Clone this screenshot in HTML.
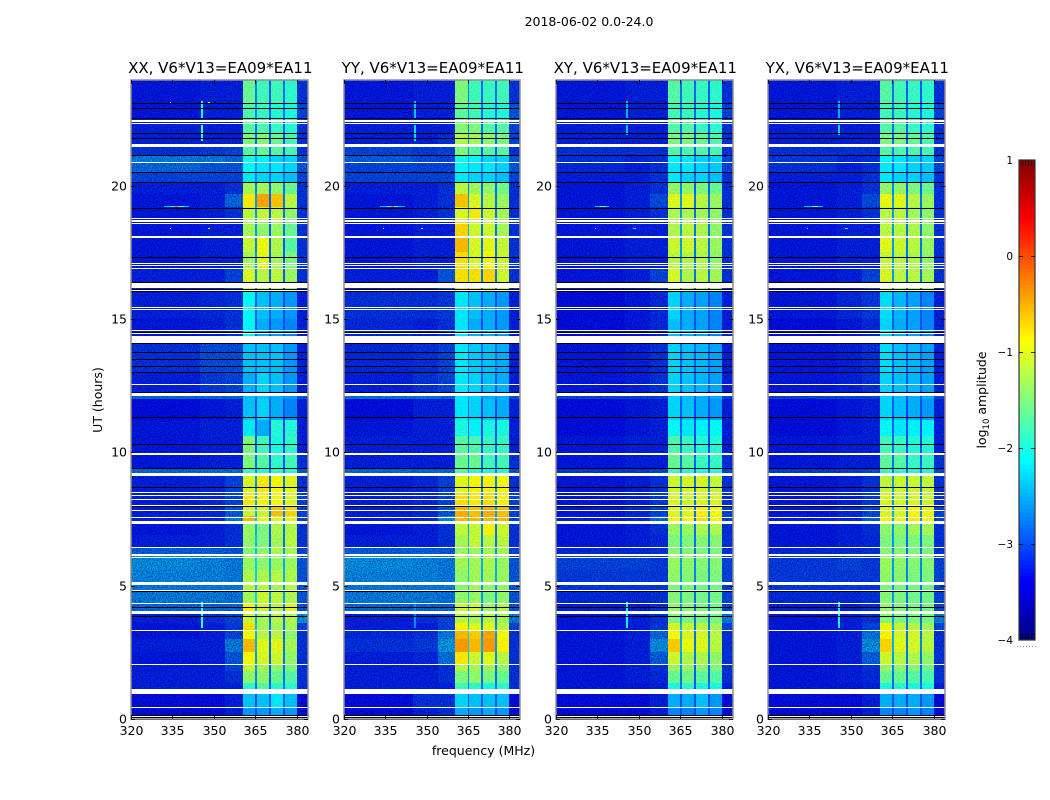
<!DOCTYPE html>
<html lang="en">
<head>
<meta charset="utf-8">
<title>2018-06-02 dynamic spectra</title>
<style>
html,body{margin:0;padding:0;background:#fff;width:1050px;height:800px;overflow:hidden}
svg{display:block}
text{font-family:"DejaVu Sans","Liberation Sans",sans-serif;fill:#000}
</style>
</head>
<body>
<svg id="figure" xmlns="http://www.w3.org/2000/svg" width="1050" height="800" viewBox="0 0 1050 800">
<defs>
<filter id="speckle" x="0" y="0" width="100%" height="100%" color-interpolation-filters="sRGB">
<feTurbulence type="fractalNoise" baseFrequency="0.8" numOctaves="1" seed="3"/>
<feColorMatrix type="matrix" values="0 0 0 0 0  0 0 0 0 0  0 0 0 0 0  2.6 0 0 0 -1"/>
</filter>
</defs>
<rect width="1050" height="800" fill="#fff"/>
<text x="589" y="26" font-size="12.5" text-anchor="middle">2018-06-02 0.0-24.0</text>
<text x="102" y="400" font-size="12.5" text-anchor="middle" transform="rotate(-90 102 400)">UT (hours)</text>
<text x="483.5" y="755" font-size="12.5" text-anchor="middle">frequency (MHz)</text>
<text x="986" y="400" font-size="12.5" text-anchor="middle" transform="rotate(-90 986 400)">log<tspan font-size="8.5" dy="3">10</tspan><tspan dy="-3"> amplitude</tspan></text>
<g id="panels"></g>
<g id="colorbar"></g>
</svg>
<script>
const frequencyEdges = [320,345,354,360.4,365,365.6,369.8,370.6,374.9,375.6,380,384];
const timeEdges = [0,0.45,0.95,1.35,1.8,2.05,2.5,3,3.35,3.6,3.93,4.35,4.85,5.13,5.6,6.18,6.46,6.9,7.41,7.6,8,8.5,9.24,9.4,10,10.6,11.2,12,12.27,13,14.1,15,16.1,16.9,17.5,18.1,18.7,19.2,19.7,20.15,20.5,20.85,21.16,21.5,22,22.4,23.1,23.97];
const xTickLabels = [320,335,350,365,380];
const yTickLabels = [0,5,10,15,20];
const colorbarTickLabels = [1,0,-1,-2,-3,-4];
const panelTitles = ["XX, V6*V13=EA09*EA11","YY, V6*V13=EA09*EA11","XY, V6*V13=EA09*EA11","YX, V6*V13=EA09*EA11"];

const xxValues = [
[-3.3,-3.3,-3.2,-2.6,-3,-2.6,-3,-2.5,-3,-2.6,-3.3],
[-3.3,-3.3,-3.2,-2.4,-3,-2.4,-2.9,-2.2,-2.9,-2.4,-3.3],
[-3.2,-3.2,-3.2,-1.9,-2.8,-1.7,-2.9,-1.9,-2.8,-1.9,-3.1],
[-3.2,-3.2,-3.1,-1.4,-2.7,-1.4,-2.9,-1.6,-2.8,-1.7,-3.1],
[-3.2,-3.2,-3,-1.1,-2.6,-1.3,-2.9,-1.4,-2.8,-1.5,-3.1],
[-3.25,-3.2,-2.9,-0.9,-2.6,-1.05,-2.9,-1.1,-2.8,-1.4,-3.1],
[-3.2,-3.2,-2.7,-0.55,-2.5,-1,-2.9,-1,-2.8,-1.3,-3.1],
[-3.25,-3.2,-3,-0.9,-2.5,-1.2,-2.9,-1.2,-2.9,-1.4,-3.1],
[-3.25,-3.2,-3.05,-0.75,-2.4,-1.3,-2.8,-1.3,-2.8,-1.3,-3],
[-3.2,-3.1,-3,-1.1,-2.5,-1.3,-2.9,-1.2,-2.8,-1.25,-2.6],
[-2.8,-2.8,-2.8,-0.85,-2.5,-1.1,-2.7,-1.2,-2.7,-1,-2.9],
[-2.7,-2.7,-2.75,-1.3,-2.3,-1.1,-2.6,-1.2,-2.6,-1.25,-2.9],
[-2.7,-2.7,-2.7,-1.2,-2.4,-1.2,-2.6,-1.3,-2.6,-1.2,-2.9],
[-2.65,-2.65,-2.7,-1.25,-2.3,-1.25,-2.5,-1.2,-2.5,-1.25,-2.9],
[-2.6,-2.65,-2.7,-1.35,-2.3,-1.4,-2.5,-1.35,-2.5,-1.35,-2.9],
[-2.85,-2.85,-2.9,-1.45,-2.4,-1.4,-2.6,-1.25,-2.6,-1.3,-3],
[-3.2,-3.2,-3.1,-1.4,-2.4,-1.5,-2.9,-1.3,-2.8,-1.2,-3.1],
[-3.25,-3.2,-3.1,-1.35,-2.5,-1.5,-2.9,-1.25,-2.8,-1.25,-3.1],
[-3.2,-3.15,-2.7,-0.55,-2.4,-1,-2.8,-1,-2.7,-1,-3],
[-3.2,-3.15,-2.9,-1.1,-2.5,-1.1,-2.8,-0.6,-2.7,-0.7,-3],
[-3.2,-3.15,-3,-0.8,-2.5,-0.85,-2.8,-0.9,-2.8,-1.05,-3],
[-3.2,-3.15,-3,-1.05,-2.6,-0.8,-2.9,-0.9,-2.8,-1,-3.1],
[-2.8,-2.8,-2.8,-1.8,-2.6,-1.9,-2.7,-1.9,-2.7,-1.9,-2.9],
[-3.25,-3.2,-3.2,-1.5,-2.8,-1.7,-3,-1.9,-3,-1.8,-3.1],
[-3.25,-3.2,-3.2,-1.5,-2.9,-1.8,-3,-2,-3,-1.9,-3.2],
[-3.25,-3.2,-3.2,-2.2,-3,-2.5,-3,-1.95,-3,-1.95,-3.2],
[-3.3,-3.25,-3.2,-2.4,-3,-2.3,-2.9,-2.5,-3,-2.7,-3.2],
[-2.8,-2.8,-2.8,-2.4,-2.7,-2.4,-2.7,-2.5,-2.7,-2.6,-2.9],
[-3.2,-3.05,-3,-2.5,-2.9,-2.3,-2.8,-2.4,-2.9,-2.6,-3.2],
[-3.1,-2.95,-2.95,-2.4,-2.8,-2.4,-2.8,-2.4,-2.8,-2.6,-3.2],
[-3.25,-3.2,-3.1,-2.1,-2.9,-2.5,-3,-2.6,-3,-2.7,-3.2],
[-3.2,-3.15,-3.1,-2.1,-2.9,-2.4,-2.9,-2.5,-3,-2.6,-3.2],
[-3.2,-3.2,-3,-1.05,-2.7,-1.2,-2.9,-1.2,-2.9,-1.35,-3.1],
[-3.25,-3.2,-3.2,-1.3,-2.6,-1,-2.9,-1.3,-2.9,-1.5,-3.1],
[-3.25,-3.2,-3.2,-1.15,-2.7,-0.95,-2.9,-1.25,-2.9,-1.7,-3.1],
[-3.25,-3.2,-3.2,-1.3,-2.6,-1.4,-2.9,-1.35,-2.8,-1.6,-3.1],
[-3.25,-3.2,-3.1,-1.2,-2.6,-1.15,-2.9,-1.2,-2.8,-1.4,-3.1],
[-3.25,-3.2,-2.8,-0.8,-2.6,-0.45,-2.9,-0.6,-2.8,-1.2,-3.1],
[-3.2,-3.2,-3.1,-1.3,-2.7,-1.3,-2.9,-1.4,-2.8,-1.6,-3.1],
[-3,-3,-3,-2.2,-2.7,-2.3,-2.8,-2.3,-2.8,-2.4,-3],
[-2.8,-2.9,-2.9,-2.1,-2.6,-2.2,-2.7,-2.2,-2.7,-2.3,-2.9],
[-2.7,-2.7,-2.8,-2,-2.6,-2.1,-2.7,-2.3,-2.7,-2.3,-2.9],
[-3.1,-3.05,-3,-1.7,-2.7,-1.6,-2.9,-1.7,-2.9,-1.8,-3.1],
[-3.2,-3.2,-3.2,-1.5,-2.8,-1.45,-2.9,-1.6,-2.9,-1.8,-3.1],
[-3.2,-3.2,-3.2,-1.7,-2.8,-1.75,-2.9,-1.85,-2.9,-1.95,-3.1],
[-3.25,-3.2,-3.2,-1.75,-2.7,-1.85,-2.9,-1.95,-2.8,-2,-3],
[-3.25,-3.2,-3.2,-1.6,-2.7,-1.8,-2.9,-1.8,-2.8,-1.9,-3.1]
];
const yyValues = [
[-3.3,-3.2,-3.1,-2.5,-3,-2.6,-3,-2.5,-3,-2.6,-3.3],
[-3.3,-3.1,-3.1,-2.3,-3,-2.4,-2.9,-2.4,-2.9,-2.4,-3.3],
[-3.2,-3.2,-3.2,-1.8,-2.8,-1.9,-2.8,-2,-2.8,-1.9,-3.1],
[-3.2,-3.2,-3.1,-1.5,-2.7,-1.4,-2.8,-1.5,-2.8,-1.6,-3.1],
[-3.2,-3.2,-3.1,-1.2,-2.7,-1.3,-2.8,-1.3,-2.8,-1.4,-3.1],
[-3.2,-3.15,-2.75,-0.8,-2.4,-1.1,-2.7,-1,-2.7,-1.2,-3.1],
[-3.1,-3.05,-2.55,-0.4,-2.3,-0.55,-2.5,-0.4,-2.6,-0.85,-3.1],
[-3.15,-3.1,-2.7,-0.55,-2.3,-0.65,-2.6,-0.45,-2.6,-0.9,-3.1],
[-3.2,-3.2,-3,-0.85,-2.4,-1,-2.7,-1,-2.7,-1.2,-3],
[-3.2,-3.1,-3,-1.2,-2.5,-1.3,-2.8,-1.2,-2.8,-1.3,-2.7],
[-2.8,-2.8,-2.8,-1.1,-2.5,-1.1,-2.7,-1.3,-2.7,-1.2,-2.9],
[-2.7,-2.7,-2.75,-1.4,-2.4,-1.35,-2.6,-1.5,-2.6,-1.4,-2.9],
[-2.7,-2.7,-2.7,-1.45,-2.4,-1.3,-2.6,-1.4,-2.6,-1.4,-2.9],
[-2.65,-2.65,-2.7,-1.4,-2.4,-1.3,-2.5,-1.3,-2.5,-1.35,-2.9],
[-2.6,-2.65,-2.7,-1.3,-2.4,-1.3,-2.5,-1.25,-2.5,-1.35,-2.9],
[-2.85,-2.85,-2.9,-1.35,-2.5,-1.35,-2.6,-1.3,-2.6,-1.3,-3],
[-3.2,-3.2,-3.1,-1.3,-2.5,-1.15,-2.7,-1.2,-2.8,-1.2,-3.1],
[-3.25,-3.2,-3.1,-1.15,-2.6,-1.15,-2.7,-0.85,-2.8,-1.1,-3.1],
[-3.2,-3.15,-2.6,-0.55,-2.4,-0.55,-2.7,-0.55,-2.6,-0.55,-3],
[-3.2,-3.15,-2.9,-0.5,-2.4,-0.6,-2.7,-0.5,-2.6,-0.6,-3],
[-3.2,-3.15,-3,-0.75,-2.5,-0.8,-2.7,-0.75,-2.6,-0.85,-3],
[-3.2,-3.15,-3,-1,-2.5,-0.85,-2.8,-0.85,-2.7,-0.9,-3.1],
[-2.8,-2.8,-2.8,-1.7,-2.6,-1.9,-2.6,-1.9,-2.7,-1.9,-2.9],
[-3.2,-3.2,-3.2,-1.6,-2.8,-1.6,-2.9,-1.8,-2.9,-1.8,-3.1],
[-3.2,-3.2,-3.2,-1.7,-2.8,-1.75,-2.9,-1.85,-2.9,-1.85,-3.2],
[-3.25,-3.2,-3.2,-2,-2.9,-2.15,-3,-2,-3,-2,-3.2],
[-3.3,-3.2,-3.2,-2.2,-2.9,-2.3,-3,-2.4,-3,-2.5,-3.2],
[-2.75,-2.75,-2.8,-2.2,-2.6,-2.3,-2.7,-2.5,-2.7,-2.5,-2.9],
[-3.2,-3.1,-3,-2.2,-2.9,-2.3,-2.9,-2.4,-2.9,-2.5,-3.2],
[-3.15,-3.1,-3,-2.2,-2.8,-2.35,-2.8,-2.4,-2.8,-2.5,-3.2],
[-3.15,-3.2,-3.1,-2.2,-2.9,-2.5,-3,-2.5,-3,-2.6,-3.2],
[-3.1,-3.1,-3.05,-2.2,-2.9,-2.4,-2.9,-2.5,-3,-2.6,-3.2],
[-3.2,-3.2,-2.9,-0.75,-2.5,-0.75,-2.8,-0.7,-2.8,-1.1,-3.1],
[-3.25,-3.2,-3.2,-0.75,-2.5,-1.05,-2.8,-0.9,-2.8,-1.1,-3.1],
[-3.25,-3.2,-3.2,-0.55,-2.5,-1.05,-2.8,-1,-2.8,-1.15,-3.1],
[-3.25,-3.2,-3.2,-0.7,-2.5,-1.1,-2.8,-1.1,-2.8,-1.3,-3.1],
[-3.25,-3.2,-3.1,-1.05,-2.5,-0.8,-2.8,-1.1,-2.8,-1.3,-3.1],
[-3.25,-3.2,-3.1,-0.6,-2.6,-1.05,-2.8,-1.2,-2.8,-1.35,-3.1],
[-3.2,-3.2,-3.1,-1.2,-2.7,-1.35,-2.8,-1.4,-2.8,-1.55,-3.1],
[-3,-3,-3,-2.2,-2.7,-2.3,-2.8,-2.3,-2.8,-2.4,-3],
[-3,-3,-3,-2.1,-2.6,-2.2,-2.7,-2.2,-2.7,-2.3,-2.9],
[-2.85,-2.95,-3,-2,-2.6,-2.1,-2.7,-2.3,-2.7,-2.3,-2.9],
[-3,-3.05,-3,-1.5,-2.7,-1.7,-2.9,-1.7,-2.9,-1.7,-3.1],
[-3.2,-3.2,-3.1,-1.25,-2.7,-1.3,-2.8,-1.4,-2.8,-1.5,-3],
[-3.2,-3.2,-3.2,-1.45,-2.7,-1.5,-2.8,-1.7,-2.8,-1.7,-3],
[-3.25,-3.2,-3.2,-1.65,-2.7,-1.8,-2.8,-1.95,-2.8,-1.95,-2.9],
[-3.25,-3.2,-3.2,-1.5,-2.7,-1.8,-2.8,-1.85,-2.8,-1.8,-3.1]
];
const xyValues = [
[-3.3,-3.3,-3.2,-2.7,-3,-2.7,-3,-2.6,-3,-2.7,-3.3],
[-3.3,-3.3,-3.2,-2.5,-3,-2.5,-3,-2.4,-3,-2.6,-3.3],
[-3.25,-3.25,-3.2,-2,-2.9,-1.9,-3,-2,-2.9,-2,-3.2],
[-3.25,-3.2,-3.15,-1.6,-2.8,-1.55,-2.9,-1.65,-2.9,-1.7,-3.1],
[-3.25,-3.2,-3.1,-1.35,-2.7,-1.35,-2.9,-1.45,-2.9,-1.5,-3.1],
[-3.25,-3.2,-2.85,-1.1,-2.6,-1.25,-2.8,-1.25,-2.8,-1.4,-3.1],
[-3.25,-3.2,-2.6,-0.65,-2.5,-0.95,-2.8,-1,-2.7,-1.2,-3.1],
[-3.25,-3.2,-2.8,-0.9,-2.5,-1.05,-2.8,-1.05,-2.8,-1.2,-3.1],
[-3.25,-3.2,-3.05,-1.05,-2.5,-1.15,-2.8,-1.2,-2.8,-1.3,-3],
[-3.25,-3.2,-3.1,-1.5,-2.6,-1.5,-2.8,-1.5,-2.8,-1.55,-2.7],
[-3.2,-3.2,-3.1,-1.4,-2.6,-1.45,-2.8,-1.5,-2.8,-1.55,-3],
[-3.15,-3.15,-3.1,-1.45,-2.6,-1.5,-2.8,-1.55,-2.8,-1.55,-3],
[-3.05,-3.05,-3.05,-1.5,-2.6,-1.5,-2.8,-1.55,-2.8,-1.55,-3],
[-3.05,-3.05,-3.05,-1.4,-2.6,-1.45,-2.7,-1.5,-2.7,-1.5,-3],
[-3,-3,-3.05,-1.35,-2.6,-1.4,-2.7,-1.45,-2.7,-1.45,-3],
[-3.15,-3.15,-3.1,-1.45,-2.6,-1.45,-2.8,-1.5,-2.8,-1.5,-3.1],
[-3.25,-3.2,-3.15,-1.5,-2.6,-1.5,-2.8,-1.45,-2.8,-1.45,-3.1],
[-3.25,-3.2,-3.1,-1.35,-2.6,-1.35,-2.8,-1.25,-2.8,-1.25,-3.1],
[-3.2,-3.15,-2.8,-0.85,-2.5,-0.9,-2.8,-0.75,-2.7,-0.85,-3],
[-3.25,-3.15,-3,-1,-2.5,-1,-2.8,-0.85,-2.7,-0.9,-3],
[-3.25,-3.2,-3.05,-1.05,-2.6,-1.1,-2.8,-1.05,-2.8,-1.05,-3.1],
[-3.25,-3.2,-3.1,-1.1,-2.6,-1.05,-2.8,-1.05,-2.8,-1.15,-3.1],
[-3.05,-3.05,-3,-1.8,-2.7,-1.9,-2.8,-1.95,-2.8,-1.95,-3],
[-3.25,-3.2,-3.2,-1.6,-2.8,-1.7,-2.9,-1.85,-2.9,-1.85,-3.1],
[-3.25,-3.2,-3.2,-1.75,-2.8,-1.85,-3,-1.95,-3,-1.95,-3.2],
[-3.3,-3.25,-3.2,-2.1,-2.9,-2.2,-3,-2.15,-3,-2.1,-3.2],
[-3.3,-3.25,-3.2,-2.3,-2.9,-2.4,-3,-2.5,-3,-2.6,-3.2],
[-3,-3,-3,-2.3,-2.8,-2.4,-2.9,-2.5,-2.9,-2.5,-3],
[-3.25,-3.2,-3.1,-2.3,-2.9,-2.4,-2.9,-2.45,-2.9,-2.55,-3.2],
[-3.25,-3.2,-3.1,-2.3,-2.9,-2.4,-2.9,-2.45,-2.9,-2.55,-3.2],
[-3.3,-3.25,-3.15,-2.4,-2.9,-2.5,-3,-2.55,-3,-2.7,-3.2],
[-3.3,-3.25,-3.15,-2.3,-2.9,-2.5,-3,-2.55,-3,-2.7,-3.2],
[-3.25,-3.2,-3,-1.05,-2.6,-1.25,-2.8,-1.2,-2.8,-1.3,-3.1],
[-3.25,-3.2,-3.2,-1.2,-2.6,-1.25,-2.8,-1.25,-2.8,-1.4,-3.1],
[-3.25,-3.2,-3.2,-1.1,-2.6,-1.1,-2.8,-1.2,-2.8,-1.35,-3.1],
[-3.25,-3.2,-3.2,-1.25,-2.6,-1.2,-2.8,-1.25,-2.8,-1.4,-3.1],
[-3.25,-3.2,-3.1,-1.25,-2.6,-1.25,-2.8,-1.3,-2.8,-1.4,-3.1],
[-3.25,-3.2,-2.95,-1,-2.6,-1,-2.8,-1.2,-2.8,-1.35,-3.1],
[-3.25,-3.2,-3.1,-1.4,-2.7,-1.4,-2.9,-1.5,-2.9,-1.6,-3.1],
[-3.2,-3.2,-3.1,-2.2,-2.8,-2.3,-2.9,-2.3,-2.9,-2.4,-3.1],
[-3.15,-3.2,-3.1,-2.2,-2.8,-2.2,-2.8,-2.3,-2.8,-2.35,-3],
[-3.1,-3.15,-3.1,-2.1,-2.7,-2.2,-2.8,-2.3,-2.8,-2.3,-3],
[-3.1,-3.1,-3.1,-1.7,-2.7,-1.75,-2.9,-1.75,-2.9,-1.8,-3.1],
[-3.2,-3.2,-3.2,-1.5,-2.8,-1.5,-2.9,-1.6,-2.9,-1.75,-3.1],
[-3.2,-3.2,-3.2,-1.7,-2.8,-1.7,-2.9,-1.85,-2.9,-1.9,-3.1],
[-3.25,-3.2,-3.2,-1.8,-2.8,-1.85,-2.9,-1.95,-2.9,-2,-3],
[-3.25,-3.2,-3.2,-1.7,-2.8,-1.8,-2.9,-1.85,-2.9,-1.9,-3.1]
];
const yxValues = [
[-3.3,-3.3,-3.2,-2.7,-3,-2.7,-3,-2.6,-3,-2.7,-3.3],
[-3.3,-3.3,-3.2,-2.5,-3,-2.5,-3,-2.5,-3,-2.6,-3.3],
[-3.25,-3.25,-3.2,-2,-2.9,-1.95,-3,-2,-2.9,-2,-3.2],
[-3.25,-3.2,-3.15,-1.6,-2.8,-1.6,-2.9,-1.7,-2.9,-1.75,-3.1],
[-3.25,-3.2,-3.1,-1.35,-2.7,-1.4,-2.9,-1.45,-2.9,-1.55,-3.1],
[-3.25,-3.2,-2.85,-1.1,-2.6,-1.2,-2.8,-1.25,-2.8,-1.4,-3.1],
[-3.25,-3.2,-2.6,-0.7,-2.5,-1,-2.8,-1.05,-2.7,-1.2,-3.1],
[-3.25,-3.2,-2.75,-0.85,-2.5,-1.05,-2.8,-1.05,-2.8,-1.2,-3.1],
[-3.25,-3.2,-3,-0.95,-2.5,-1.15,-2.8,-1.2,-2.8,-1.3,-3],
[-3.25,-3.2,-3.1,-1.45,-2.6,-1.5,-2.8,-1.5,-2.8,-1.55,-2.7],
[-3.2,-3.2,-3.1,-1.35,-2.6,-1.45,-2.8,-1.5,-2.8,-1.55,-3],
[-3.15,-3.15,-3.1,-1.45,-2.6,-1.5,-2.8,-1.55,-2.8,-1.55,-3],
[-3.05,-3.05,-3.05,-1.5,-2.6,-1.5,-2.8,-1.55,-2.8,-1.55,-3],
[-3.05,-3.05,-3.05,-1.4,-2.6,-1.45,-2.7,-1.5,-2.7,-1.5,-3],
[-3.05,-3,-3.05,-1.35,-2.6,-1.4,-2.7,-1.45,-2.7,-1.45,-3],
[-3.15,-3.15,-3.1,-1.45,-2.6,-1.45,-2.8,-1.5,-2.8,-1.5,-3.1],
[-3.25,-3.2,-3.15,-1.5,-2.6,-1.5,-2.8,-1.5,-2.8,-1.5,-3.1],
[-3.25,-3.2,-3.1,-1.4,-2.6,-1.4,-2.8,-1.3,-2.8,-1.3,-3.1],
[-3.2,-3.15,-2.85,-0.9,-2.5,-0.95,-2.8,-0.8,-2.7,-0.9,-3],
[-3.25,-3.15,-3,-1.05,-2.5,-1.05,-2.8,-0.9,-2.7,-0.95,-3],
[-3.25,-3.2,-3.05,-1.05,-2.6,-1.1,-2.8,-1.05,-2.8,-1.1,-3.1],
[-3.25,-3.2,-3.1,-1.15,-2.6,-1.1,-2.8,-1.1,-2.8,-1.15,-3.1],
[-3.05,-3.05,-3,-1.85,-2.7,-1.9,-2.8,-1.95,-2.8,-1.95,-3],
[-3.25,-3.2,-3.2,-1.65,-2.8,-1.7,-2.9,-1.85,-2.9,-1.85,-3.1],
[-3.25,-3.2,-3.2,-1.8,-2.8,-1.85,-3,-1.95,-3,-1.95,-3.2],
[-3.3,-3.25,-3.2,-2.1,-2.9,-2.2,-3,-2.15,-3,-2.15,-3.2],
[-3.3,-3.25,-3.2,-2.3,-2.9,-2.4,-3,-2.5,-3,-2.6,-3.2],
[-3,-3,-3,-2.3,-2.8,-2.4,-2.9,-2.5,-2.9,-2.5,-3],
[-3.25,-3.2,-3.1,-2.3,-2.9,-2.4,-2.9,-2.45,-2.9,-2.55,-3.2],
[-3.25,-3.2,-3.1,-2.25,-2.9,-2.4,-2.9,-2.45,-2.9,-2.55,-3.2],
[-3.3,-3.25,-3.15,-2.3,-2.9,-2.5,-3,-2.55,-3,-2.7,-3.2],
[-3.25,-3.15,-3.05,-2.25,-2.9,-2.45,-3,-2.55,-3,-2.7,-3.2],
[-3.25,-3.2,-3,-1.05,-2.6,-1.2,-2.8,-1.2,-2.8,-1.3,-3.1],
[-3.25,-3.2,-3.2,-1.15,-2.6,-1.2,-2.8,-1.25,-2.8,-1.4,-3.1],
[-3.25,-3.2,-3.2,-1,-2.6,-1.1,-2.8,-1.2,-2.8,-1.35,-3.1],
[-3.25,-3.2,-3.2,-1.2,-2.6,-1.2,-2.8,-1.25,-2.8,-1.4,-3.1],
[-3.25,-3.2,-3.1,-1.2,-2.6,-1.2,-2.8,-1.3,-2.8,-1.4,-3.1],
[-3.25,-3.2,-2.95,-0.95,-2.6,-1,-2.8,-1.2,-2.8,-1.35,-3.1],
[-3.25,-3.2,-3.1,-1.4,-2.7,-1.4,-2.9,-1.5,-2.9,-1.6,-3.1],
[-3.2,-3.2,-3.1,-2.2,-2.8,-2.3,-2.9,-2.3,-2.9,-2.4,-3.1],
[-3.1,-3.2,-3.1,-2.2,-2.8,-2.2,-2.8,-2.3,-2.8,-2.35,-3],
[-3.05,-3.15,-3.1,-2.1,-2.7,-2.2,-2.8,-2.3,-2.8,-2.3,-3],
[-3.1,-3.1,-3.1,-1.7,-2.7,-1.75,-2.9,-1.75,-2.9,-1.8,-3.1],
[-3.2,-3.2,-3.2,-1.5,-2.8,-1.5,-2.9,-1.6,-2.9,-1.75,-3.1],
[-3.2,-3.2,-3.2,-1.7,-2.8,-1.7,-2.9,-1.85,-2.9,-1.9,-3.1],
[-3.25,-3.2,-3.2,-1.8,-2.8,-1.85,-2.9,-1.95,-2.9,-2,-3],
[-3.25,-3.2,-3.2,-1.7,-2.8,-1.8,-2.9,-1.85,-2.9,-1.9,-3.1]
];
const panelValues = [xxValues, yyValues, xyValues, yxValues];

// panel index, start MHz, end MHz, start hour, end hour, log amplitude
const rfiBursts = [
[0,332,341,19.22,19.26,-2.4],[0,334.5,339,19.22,19.26,-1.7],[0,336,337,19.22,19.26,-0.2],[0,345.3,346,22.55,23.2,-2],[0,345.3,346,21.7,22.3,-1.8],[0,345.3,346,3.4,4.4,-1.9],[0,334,334.4,23.12,23.16,-1.2],[0,348,348.6,23.12,23.16,-0.9],[0,334,334.4,18.38,18.42,-1.3],[0,348,348.6,18.38,18.42,-1],
[1,333,342,19.22,19.26,-2.5],[1,335.5,339.5,19.22,19.26,-1.7],[1,337,338,19.22,19.26,-0.2],[1,345.3,346,22.55,23.2,-2.4],[1,345.3,346,21.7,22.3,-2.3],[1,345.3,346,3.4,4.4,-2.7],[1,334,334.6,18.38,18.42,-2],[1,348,348.8,18.38,18.42,-1.8],
[2,334,339,19.22,19.26,-2.4],[2,336,338,19.22,19.26,-1.5],[2,345.3,346,22.55,23.2,-2.5],[2,345.3,346,21.9,22.3,-2.4],[2,345.3,346,3.4,4.4,-2.1],[2,334,334.6,18.38,18.42,-2.1],[2,348,348.8,18.38,18.42,-2],
[3,333,340,19.22,19.26,-2.4],[3,336,338,19.22,19.26,-1.5],[3,345.3,346,22.55,23.2,-2.5],[3,345.3,346,21.9,22.3,-2.3],[3,345.3,346,3.4,4.4,-2.1],[3,334,334.6,18.38,18.42,-2.1],[3,348,348.8,18.38,18.42,-1.9]
];

// flagged integrations in hours (start, end), drawn white
const flaggedGaps = [
[0,0.04],[0.09,0.12],[0.41,0.45],[0.95,1.13],[2.01,2.05],[3.3,3.34],[3.93,4.05],[4.32,4.35],[4.83,4.85],[5.03,5.13],[6.04,6.08],[6.12,6.18],[6.42,6.46],[7.33,7.41],[7.55,7.59],[7.8,7.84],[7.99,8.03],[8.2,8.24],[8.36,8.4],[8.47,8.51],[9.12,9.24],[9.92,9.96],[12.12,12.24],[12.53,12.57],[14.12,14.37],[14.45,14.48],[14.55,14.59],[15.33,15.37],[15.43,15.47],[16.08,16.11],[16.15,16.37],[16.88,16.92],[16.98,17.02],[17.08,17.12],[18.06,18.1],[18.55,18.59],[18.66,18.7],[18.75,18.79],[20.87,20.91],[21.46,21.56],[22.31,22.35],[22.4,22.48]
];
// scan boundaries in hours, drawn black
const scanBoundaries = [0,0.08,0.16,3.85,4.19,4.81,8,8.69,9.43,10.31,11.32,12.27,13,13.26,13.52,13.78,14.1,14.52,16.06,16.13,16.4,17.32,19.17,20.15,20.51,21.16,21.81,21.99,22.55,22.92,23.1];

const NS = "http://www.w3.org/2000/svg";
const panelBoxes = [[131,308],[344,520],[556,733],[768,945]];
const panelTop = 80, panelBottom = 719;
const freqMin = 320, freqMax = 384, timeMin = 0, timeMax = 23.97;
const cbX0 = 1019, cbX1 = 1035, cbTop = 160, cbBottom = 640, cbMin = -4, cbMax = 1;

function make(tag, parent, attrs) {
  const node = document.createElementNS(NS, tag);
  for (const k in attrs) node.setAttribute(k, attrs[k]);
  parent.appendChild(node);
  return node;
}
function clip01(v) { return Math.max(0, Math.min(1, v)); }
function jetColor(value) {
  const t = clip01((value - cbMin) / (cbMax - cbMin));
  const r = clip01(1.5 - Math.abs(4 * t - 3));
  const g = clip01(1.5 - Math.abs(4 * t - 2));
  const b = clip01(1.5 - Math.abs(4 * t - 1));
  return "rgb(" + Math.round(r * 255) + "," + Math.round(g * 255) + "," + Math.round(b * 255) + ")";
}
function yScale(hour) { return panelBottom - (hour - timeMin) / (timeMax - timeMin) * (panelBottom - panelTop); }
function cbScale(value) { return cbBottom - (value - cbMin) / (cbMax - cbMin) * (cbBottom - cbTop); }

const panelsRoot = document.getElementById("panels");
panelBoxes.forEach(function (box, p) {
  const x0 = box[0], x1 = box[1];
  const xScale = function (f) { return x0 + (f - freqMin) / (freqMax - freqMin) * (x1 - x0); };
  const g = make("g", panelsRoot, {});
  
  

  const cells = make("g", g, { "shape-rendering": "crispEdges" });
  
  
  panelValues[p].forEach(function (row, r) {
    const yTop = Math.round(yScale(timeEdges[r + 1]));
    const yBot = Math.round(yScale(timeEdges[r]));
    row.forEach(function (value, c) {
      const xa = Math.round(xScale(frequencyEdges[c]));
      const xb = Math.round(xScale(frequencyEdges[c + 1]));
      const cell = make("rect", cells, { x: xa, y: yTop, width: Math.max(1, xb - xa), height: Math.max(1, yBot - yTop), fill: jetColor(value) });
      
      
    });
  });

  const bgEnd = Math.round(xScale(frequencyEdges[3]));
  const bandEnd = Math.round(xScale(frequencyEdges[10]));
  const textureLow = make("rect", g, { x: x0, y: panelTop, width: bgEnd - x0, height: panelBottom - panelTop, filter: "url(#speckle)", opacity: 0.55 });
  
  
  const textureBand = make("rect", g, { x: bgEnd, y: panelTop, width: bandEnd - bgEnd, height: panelBottom - panelTop, filter: "url(#speckle)", opacity: 0.1 });
  
  
  const textureHigh = make("rect", g, { x: bandEnd, y: panelTop, width: x1 - bandEnd, height: panelBottom - panelTop, filter: "url(#speckle)", opacity: 0.55 });
  
  

  rfiBursts.filter(function (b) { return b[0] === p; }).forEach(function (b) {
    const xa = Math.round(xScale(b[1]));
    const xb = Math.round(xScale(b[2]));
    const ya = Math.round(yScale(b[4]));
    const yb = Math.round(yScale(b[3]));
    const burst = make("rect", g, { x: xa, y: ya, width: Math.max(1, xb - xa), height: Math.max(1, yb - ya), fill: jetColor(b[5]), "shape-rendering": "crispEdges" });
    
    
  });

  flaggedGaps.forEach(function (gap) {
    const ya = Math.round(yScale(gap[1]));
    const yb = Math.round(yScale(gap[0]));
    const gapRect = make("rect", g, { x: x0, y: ya, width: x1 - x0, height: Math.max(1, yb - ya), fill: "#fff", "shape-rendering": "crispEdges" });
    
    
  });
  scanBoundaries.forEach(function (hour) {
    const lineRect = make("rect", g, { x: x0, y: Math.round(yScale(hour)), width: x1 - x0, height: 1, fill: "#000", "shape-rendering": "crispEdges" });
    
    
  });

  const frame = make("rect", g, { x: x0, y: panelTop, width: x1 - x0, height: panelBottom - panelTop, fill: "none", stroke: "#8f8f8f", "stroke-width": 1.5 });
  
  

  xTickLabels.forEach(function (f) {
    const x = Math.round(xScale(f)) + 0.5;
    const tickBottom = make("line", g, { x1: x, x2: x, y1: panelBottom, y2: panelBottom - 4, stroke: "#000", "stroke-width": 0.8 });
    
    
    const tickTop = make("line", g, { x1: x, x2: x, y1: panelTop, y2: panelTop + 4, stroke: "#000", "stroke-width": 0.8 });
    
    
    const label = make("text", g, { x: x, y: 735, "font-size": 12.5, "text-anchor": "middle" });
    
    
    label.textContent = f;
  });
  yTickLabels.forEach(function (h) {
    const y = Math.round(yScale(h)) + 0.5;
    const tickLeft = make("line", g, { x1: x0, x2: x0 + 4, y1: y, y2: y, stroke: "#000", "stroke-width": 0.8 });
    
    
    const tickRight = make("line", g, { x1: x1, x2: x1 - 4, y1: y, y2: y, stroke: "#000", "stroke-width": 0.8 });
    
    
    const label = make("text", g, { x: x0 - 4, y: y + 4, "font-size": 12.5, "text-anchor": "end" });
    
    
    label.textContent = h;
  });

  const title = make("text", g, { x: (x0 + x1) / 2 + 0.8, y: 73, "font-size": 15, "text-anchor": "middle" });
  
  
  title.textContent = panelTitles[p];
});

const cbRoot = document.getElementById("colorbar");
const cbSteps = 120;
for (let i = 0; i < cbSteps; i++) {
  const value = cbMin + (i + 0.5) / cbSteps * (cbMax - cbMin);
  const stepTop = cbScale(cbMin + (i + 1) / cbSteps * (cbMax - cbMin));
  const swatch = make("rect", cbRoot, { x: cbX0, y: stepTop, width: cbX1 - cbX0, height: (cbBottom - cbTop) / cbSteps + 0.3, fill: jetColor(value), "shape-rendering": "crispEdges" });
  
  
}
for (let mx = cbX0 + 3; mx < cbX1; mx += 3) {
  const minorTop = make("line", cbRoot, { x1: mx + 0.5, x2: mx + 0.5, y1: cbTop, y2: cbTop + 6, stroke: "#000", "stroke-width": 0.6 });
  
  
  const minorBottom = make("line", cbRoot, { x1: mx + 0.5, x2: mx + 0.5, y1: cbBottom, y2: cbBottom - 6, stroke: "#000", "stroke-width": 0.6 });
  
  
}
const cbFrame = make("rect", cbRoot, { x: cbX0, y: cbTop, width: cbX1 - cbX0, height: cbBottom - cbTop, fill: "none", stroke: "#333", "stroke-width": 1.2 });


colorbarTickLabels.forEach(function (value) {
  const y = Math.round(cbScale(value)) + 0.5;
  const label = make("text", cbRoot, { x: 1013, y: y + 3.5, "font-size": 10.5, "text-anchor": "end" });
  
  
  label.textContent = String(value).replace("-", "\u2212");
  if (value > cbMin && value < cbMax) {
    const tickA = make("line", cbRoot, { x1: cbX0, x2: cbX0 + 4, y1: y, y2: y, stroke: "#000", "stroke-width": 0.8 });
    
    
    const tickB = make("line", cbRoot, { x1: cbX1, x2: cbX1 - 4, y1: y, y2: y, stroke: "#000", "stroke-width": 0.8 });
    
    
  }
});
const cbDots = make("line", cbRoot, { x1: 1017, x2: 1036, y1: 646.5, y2: 646.5, stroke: "#999", "stroke-width": 1, "stroke-dasharray": "1 2" });


</script>
</body>
</html>
